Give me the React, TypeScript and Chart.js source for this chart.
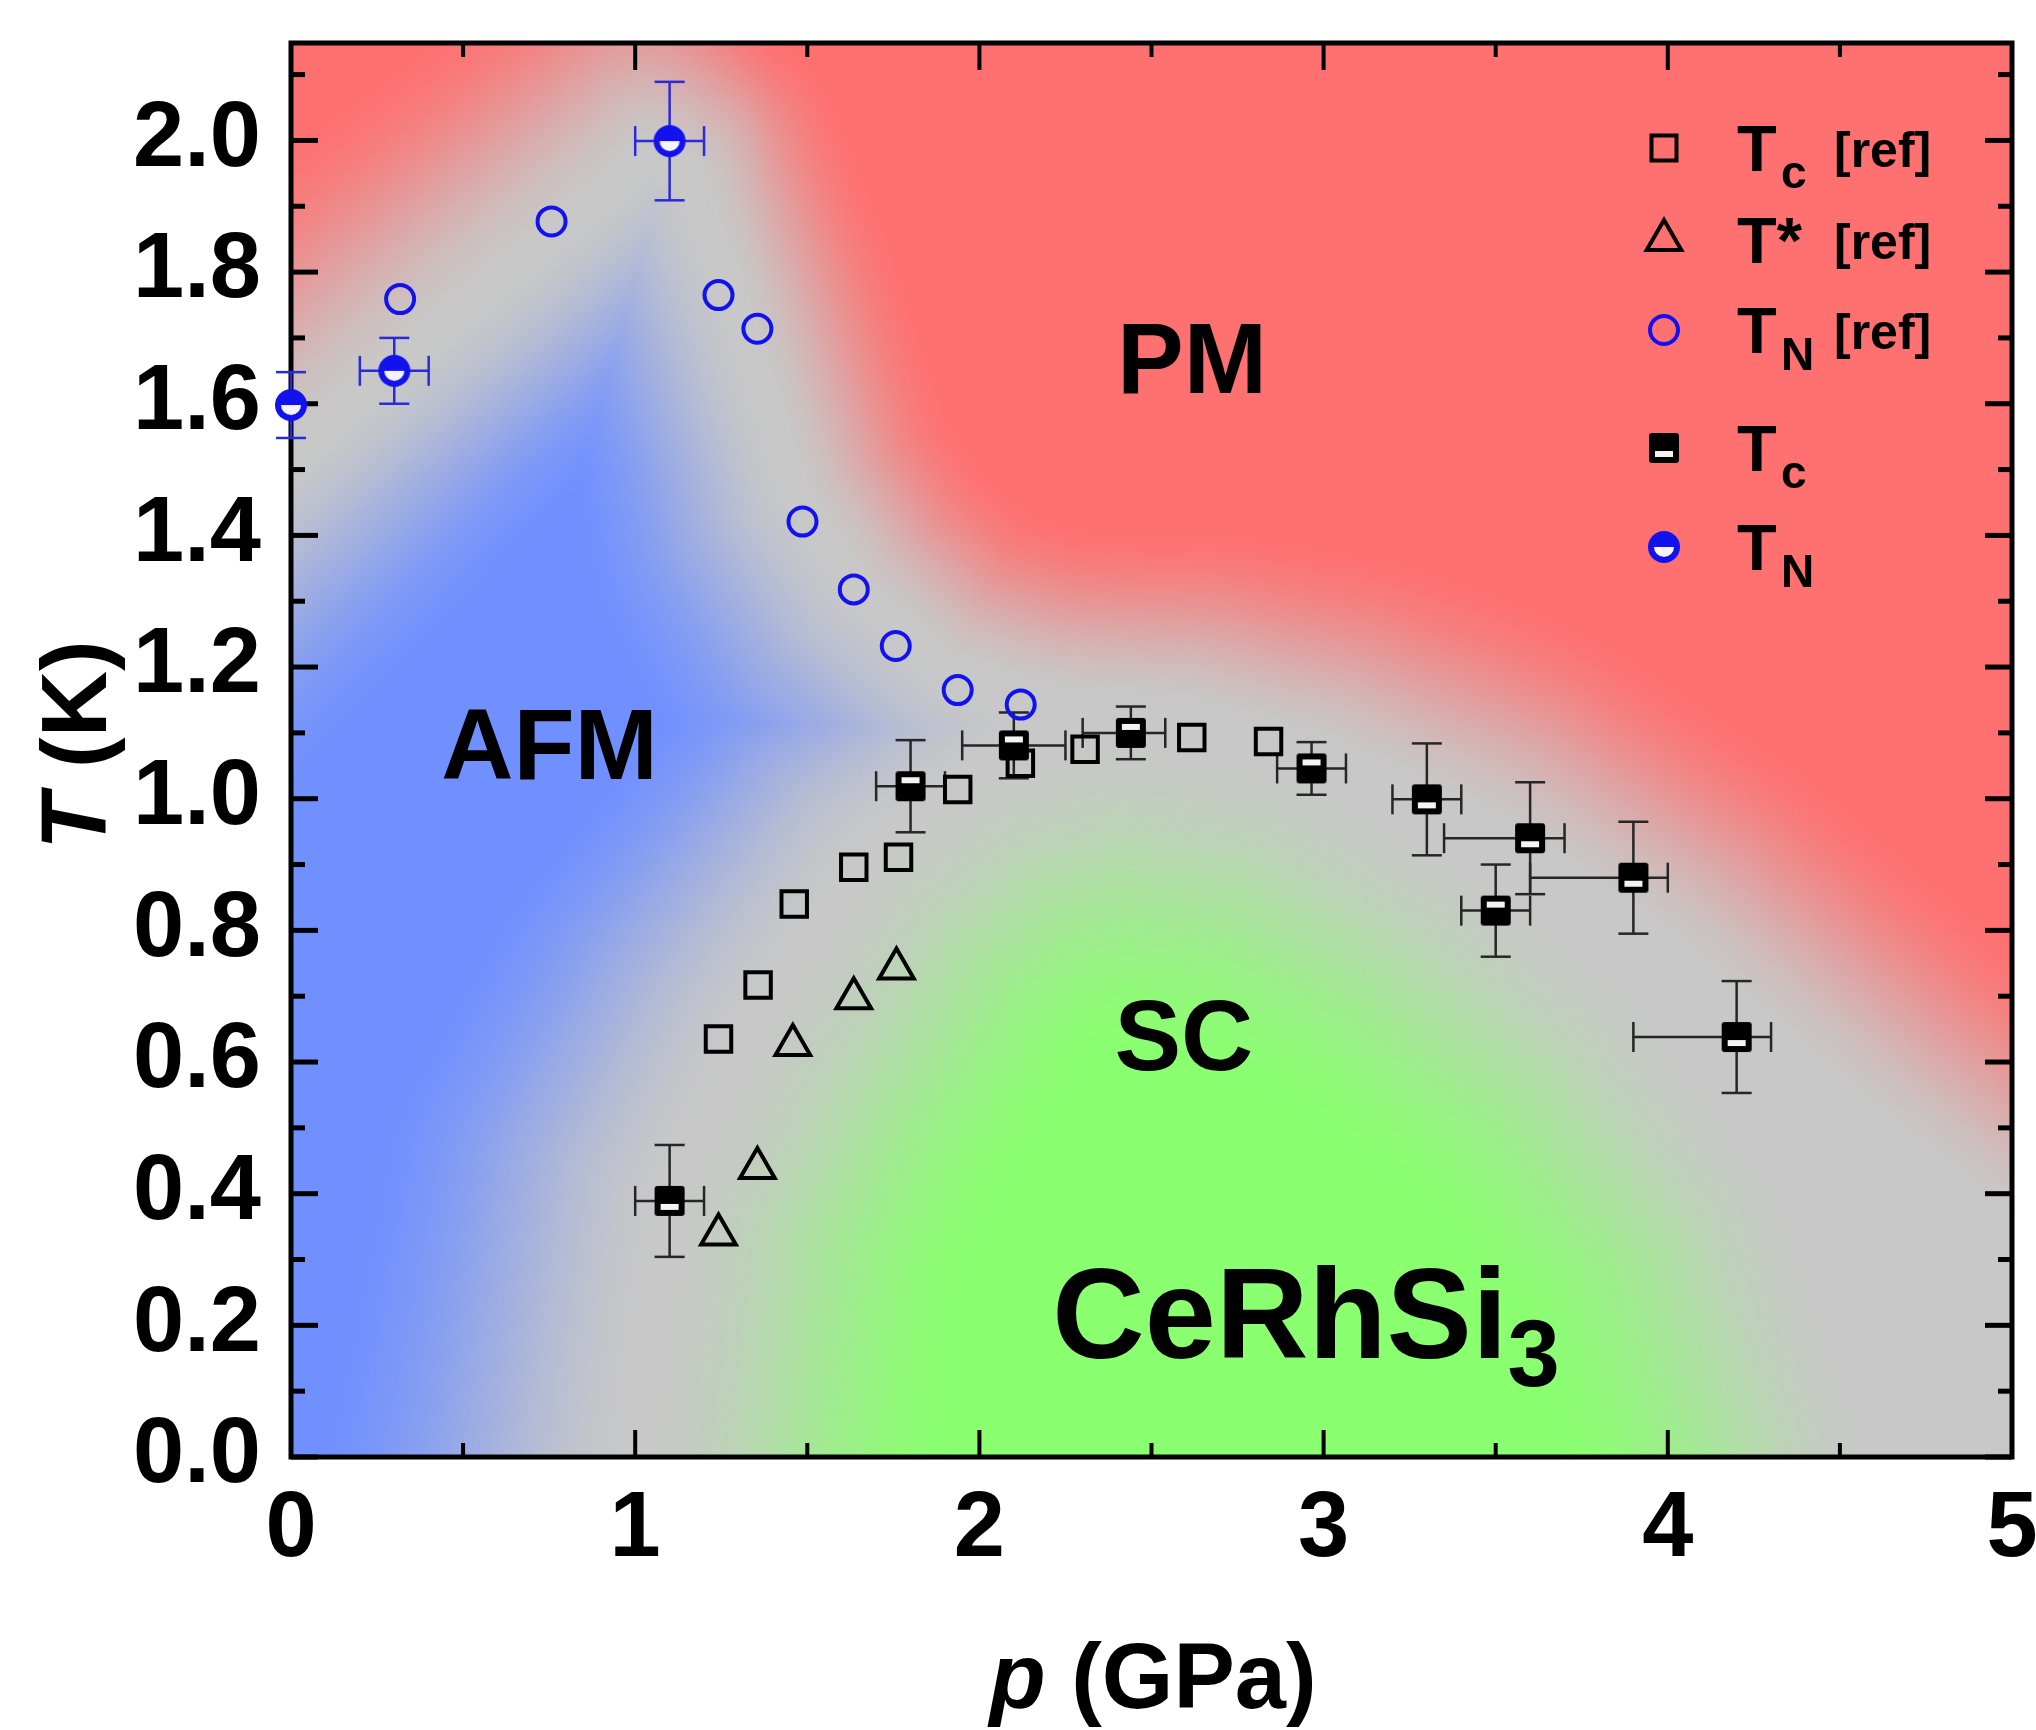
import React, { useEffect, useRef } from "react";
import { Chart, registerables } from "chart.js";

Chart.register(...registerables);

// ---------------- data ----------------
// open squares: Tc [ref]
const tcRefP = [1.242, 1.357, 1.462, 1.635, 1.765, 1.937, 2.119, 2.307, 2.617, 2.84];
const tcRefT = [0.635, 0.717, 0.84, 0.896, 0.911, 1.014, 1.054, 1.075, 1.093, 1.087];

// open triangles: T* [ref]
const tStarP = [1.242, 1.355, 1.458, 1.635, 1.759];
const tStarT = [0.338, 0.439, 0.626, 0.697, 0.742];

// open circles: TN [ref]
const tnRefP = [0.317, 0.757, 1.242, 1.355, 1.486, 1.635, 1.757, 1.937, 2.12];
const tnRefT = [1.759, 1.877, 1.765, 1.714, 1.421, 1.318, 1.232, 1.165, 1.143];

// half-filled squares: Tc (this work)
const tcP = [1.1, 1.8, 2.1, 2.44, 2.965, 3.3, 3.5, 3.6, 3.9, 4.2];
const tcT = [0.389, 1.019, 1.081, 1.1, 1.046, 0.999, 0.83, 0.94, 0.88, 0.638];
const tcPErrMinus = [0.1, 0.1, 0.15, 0.14, 0.1, 0.1, 0.1, 0.25, 0.3, 0.3];
const tcPErrPlus = [0.1, 0.1, 0.15, 0.1, 0.1, 0.1, 0.1, 0.1, 0.1, 0.1];
const tcTErr = [0.085, 0.07, 0.05, 0.04, 0.04, 0.085, 0.07, 0.085, 0.085, 0.085];
const tcBarTop = [false, true, true, true, true, false, true, false, false, false];

// half-filled circles: TN (this work)
const tnP = [0.0, 0.3, 1.1];
const tnT = [1.598, 1.65, 1.999];
const tnPErr = [0, 0.1, 0.1];
const tnTErr = [0.05, 0.05, 0.09];

// axes
const xMajorTicks = [0, 1, 2, 3, 4, 5];
const xMinorTicks = [0.5, 1.5, 2.5, 3.5, 4.5];
const yMajorTicks = [0, 0.2, 0.4, 0.6, 0.8, 1.0, 1.2, 1.4, 1.6, 1.8, 2.0];
const yMinorTicks = [0.1, 0.3, 0.5, 0.7, 0.9, 1.1, 1.3, 1.5, 1.7, 1.9, 2.1];
const X_MIN = 0, X_MAX = 5, Y_MIN = 0, Y_MAX = 2.148;

// phase regions (p, T) used for the shaded background
const pmRegion: [number, number][] = [
  [-1.5, 0.88], [0, 1.52], [0.4, 1.7], [0.75, 1.85], [1.05, 1.98], [1.15, 1.95], [1.3, 1.74],
  [1.47, 1.46], [1.65, 1.32], [1.9, 1.2], [2.2, 1.15], [2.6, 1.13], [3.0, 1.07], [3.5, 0.95],
  [4.0, 0.77], [4.6, 0.5], [5.0, 0.34], [6.5, -0.2], [6.5, 5], [-1.5, 5],
];
const afmRegion: [number, number][] = [
  [-1.5, -2], [0.95, -2], [1.0, 0], [1.1, 0.4], [1.32, 0.64], [1.67, 0.92], [2.0, 1.05],
  [2.15, 1.12], [1.9, 1.2], [1.65, 1.32], [1.47, 1.46], [1.3, 1.74], [1.15, 1.95], [1.05, 1.98],
  [0.75, 1.85], [0.4, 1.7], [0, 1.52], [-1.5, 0.88],
];
const scRegion: [number, number][] = [
  [0.95, -2], [1.0, 0], [1.1, 0.4], [1.32, 0.64], [1.67, 0.92], [2.0, 1.05], [2.4, 1.1],
  [2.9, 1.06], [3.4, 0.92], [3.9, 0.72], [4.35, 0.42], [4.6, 0.05], [4.8, -2],
];
// fade widths (px) of each colour field
const pmWidthAtP = [[0, 250], [1.0, 220], [1.4, 170], [2.5, 185], [3.5, 230], [5, 240]];
const afmWidthAtT = [[0, 330], [0.8, 290], [1.5, 220], [2.2, 220]];
const SC_WIDTH = 320;

// ---------------- styles ----------------
const FONT = '"Liberation Sans", Arial, Helvetica, sans-serif';
const BLUE = "#1212ee";
const GRAY: [number, number, number] = [200, 200, 200];
const RED: [number, number, number] = [255, 112, 112];
const BLUE_BG: [number, number, number] = [112, 144, 255];
const GREEN: [number, number, number] = [138, 255, 112];

function interp(table: number[][], v: number): number {
  if (v <= table[0][0]) return table[0][1];
  for (let i = 1; i < table.length; i++) {
    if (v <= table[i][0]) {
      const [x0, y0] = table[i - 1];
      const [x1, y1] = table[i];
      return y0 + ((v - x0) / (x1 - x0)) * (y1 - y0);
    }
  }
  return table[table.length - 1][1];
}

function makeFilledSquare(barTop: boolean): HTMLCanvasElement {
  const c = document.createElement("canvas");
  c.width = 36;
  c.height = 36;
  const g = c.getContext("2d")!;
  g.fillStyle = "#000";
  g.beginPath();
  (g as any).roundRect ? (g as any).roundRect(3, 3, 30, 30, 3) : g.rect(3, 3, 30, 30);
  g.fill();
  g.fillStyle = "#f4f4f4";
  g.fillRect(9, barTop ? 9 : 21, 18, 6);
  return c;
}

function makeHalfCircle(): HTMLCanvasElement {
  const c = document.createElement("canvas");
  c.width = 36;
  c.height = 36;
  const g = c.getContext("2d")!;
  g.fillStyle = BLUE;
  g.beginPath();
  g.arc(18, 18, 16, 0, Math.PI * 2);
  g.fill();
  g.fillStyle = "#f6f2ff";
  g.beginPath();
  g.arc(18, 18, 10, 0, Math.PI);
  g.closePath();
  g.fill();
  return c;
}

function signedDist(px: number, py: number, poly: number[][]): number {
  let inside = false;
  let minD = Infinity;
  const n = poly.length;
  for (let i = 0, j = n - 1; i < n; j = i++) {
    const xi = poly[i][0], yi = poly[i][1], xj = poly[j][0], yj = poly[j][1];
    if ((yi > py) !== (yj > py) && px < ((xj - xi) * (py - yi)) / (yj - yi) + xi) inside = !inside;
    const dx = xj - xi, dy = yj - yi;
    const l2 = dx * dx + dy * dy;
    let t = l2 > 0 ? ((px - xi) * dx + (py - yi) * dy) / l2 : 0;
    t = t < 0 ? 0 : t > 1 ? 1 : t;
    const ex = xi + t * dx - px, ey = yi + t * dy - py;
    const d = ex * ex + ey * ey;
    if (d < minD) minD = d;
  }
  const d = Math.sqrt(minD);
  return inside ? d : -d;
}

const backgroundPlugin = {
  id: "phaseBackground",
  beforeDraw(chart: any) {
    const { ctx, chartArea: a, scales } = chart;
    const xs = scales.x, ys = scales.y;
    const step = 3;
    const w = Math.ceil((a.right - a.left) / step);
    const h = Math.ceil((a.bottom - a.top) / step);
    const off = document.createElement("canvas");
    off.width = w;
    off.height = h;
    const octx = off.getContext("2d")!;
    const img = octx.createImageData(w, h);
    const toPx = (poly: [number, number][]) =>
      poly.map(([p, t]) => [xs.getPixelForValue(p), ys.getPixelForValue(t)]);
    const pmPoly = toPx(pmRegion), afmPoly = toPx(afmRegion), scPoly = toPx(scRegion);
    const add = (rgb: number[], col: number[], d: number, width: number) => {
      if (d <= 0) return;
      let t = Math.min(1, d / width);
      t = t * t * (3 - 2 * t);
      rgb[0] += t * (col[0] - GRAY[0]);
      rgb[1] += t * (col[1] - GRAY[1]);
      rgb[2] += t * (col[2] - GRAY[2]);
    };
    for (let j = 0; j < h; j++) {
      const py = a.top + (j + 0.5) * step;
      const tv = ys.getValueForPixel(py);
      const afmW = interp(afmWidthAtT, tv);
      for (let i = 0; i < w; i++) {
        const px = a.left + (i + 0.5) * step;
        const pv = xs.getValueForPixel(px);
        const rgb = [GRAY[0], GRAY[1], GRAY[2]];
        add(rgb, RED, signedDist(px, py, pmPoly), interp(pmWidthAtP, pv));
        add(rgb, BLUE_BG, signedDist(px, py, afmPoly), afmW);
        add(rgb, GREEN, signedDist(px, py, scPoly), SC_WIDTH);
        const k = (j * w + i) * 4;
        img.data[k] = rgb[0];
        img.data[k + 1] = rgb[1];
        img.data[k + 2] = rgb[2];
        img.data[k + 3] = 255;
      }
    }
    octx.putImageData(img, 0, 0);
    ctx.save();
    ctx.beginPath();
    ctx.rect(a.left, a.top, a.right - a.left, a.bottom - a.top);
    ctx.clip();
    ctx.imageSmoothingEnabled = true;
    (ctx as any).imageSmoothingQuality = "high";
    ctx.drawImage(off, a.left, a.top, w * step, h * step);
    ctx.restore();
  },
};

const framePlugin = {
  id: "frameAndErrors",
  beforeDatasetsDraw(chart: any) {
    const { ctx, chartArea: a, scales } = chart;
    const xs = scales.x, ys = scales.y;
    ctx.save();
    ctx.strokeStyle = "#000";
    ctx.lineCap = "butt";
    const line = (x1: number, y1: number, x2: number, y2: number, lw: number) => {
      ctx.lineWidth = lw;
      ctx.beginPath();
      ctx.moveTo(x1, y1);
      ctx.lineTo(x2, y2);
      ctx.stroke();
    };
    const MAJ = 27, MIN = 14, TW = 4;
    for (const v of xMajorTicks) {
      const px = xs.getPixelForValue(v);
      line(px, a.bottom, px, a.bottom - MAJ, TW);
      line(px, a.top, px, a.top + MAJ, TW);
    }
    for (const v of xMinorTicks) {
      const px = xs.getPixelForValue(v);
      line(px, a.bottom, px, a.bottom - MIN, TW);
      line(px, a.top, px, a.top + MIN, TW);
    }
    for (const v of yMajorTicks) {
      const py = ys.getPixelForValue(v);
      line(a.left, py, a.left + MAJ, py, TW + 1);
      line(a.right, py, a.right - MAJ, py, TW + 1);
    }
    for (const v of yMinorTicks) {
      const py = ys.getPixelForValue(v);
      line(a.left, py, a.left + MIN, py, TW + 1);
      line(a.right, py, a.right - MIN, py, TW + 1);
    }
    ctx.lineWidth = 5;
    ctx.strokeRect(a.left, a.top, a.right - a.left, a.bottom - a.top);

    // error bars
    const errBar = (p: number, t: number, pm: number, pp: number, te: number, color: string) => {
      const cx = xs.getPixelForValue(p), cy = ys.getPixelForValue(t);
      ctx.strokeStyle = color;
      const CAP = 15;
      if (te > 0) {
        const y1 = ys.getPixelForValue(t + te), y2 = ys.getPixelForValue(t - te);
        line(cx, y1, cx, y2, 2.5);
        line(cx - CAP, y1, cx + CAP, y1, 2.5);
        line(cx - CAP, y2, cx + CAP, y2, 2.5);
      }
      if (pm > 0 || pp > 0) {
        const x1 = xs.getPixelForValue(p - pm), x2 = xs.getPixelForValue(p + pp);
        line(x1, cy, x2, cy, 2.5);
        line(x1, cy - CAP, x1, cy + CAP, 2.5);
        line(x2, cy - CAP, x2, cy + CAP, 2.5);
      }
    };
    tcP.forEach((p, i) => errBar(p, tcT[i], tcPErrMinus[i], tcPErrPlus[i], tcTErr[i], "#262626"));
    tnP.forEach((p, i) => errBar(p, tnT[i], tnPErr[i], tnPErr[i], tnTErr[i], "#2a2ad8"));
    ctx.restore();
  },
};

function textRuns(
  ctx: CanvasRenderingContext2D,
  runs: { text: string; font: string; dy?: number }[],
  x: number,
  y: number,
  align: "left" | "center"
) {
  let total = 0;
  const widths = runs.map((r) => {
    ctx.font = r.font;
    const w = ctx.measureText(r.text).width;
    total += w;
    return w;
  });
  let cx = align === "center" ? x - total / 2 : x;
  ctx.textAlign = "left";
  ctx.textBaseline = "alphabetic";
  runs.forEach((r, i) => {
    ctx.font = r.font;
    ctx.fillText(r.text, cx, y + (r.dy || 0));
    cx += widths[i];
  });
}

const annotationPlugin = {
  id: "annotationsLegend",
  afterDraw(chart: any) {
    const { ctx, scales } = chart;
    const xs = scales.x, ys = scales.y;
    ctx.save();
    ctx.fillStyle = "#000";

    // axis titles
    textRuns(
      ctx,
      [
        { text: "p", font: `italic bold 92px ${FONT}` },
        { text: " (GPa)", font: `bold 92px ${FONT}` },
      ],
      1153,
      1708,
      "center"
    );
    ctx.save();
    ctx.translate(106, 745);
    ctx.rotate(-Math.PI / 2);
    textRuns(
      ctx,
      [
        { text: "T", font: `italic bold 92px ${FONT}` },
        { text: " (K)", font: `bold 92px ${FONT}` },
      ],
      0,
      0,
      "center"
    );
    ctx.restore();

    // phase labels
    const label = (txt: string, p: number, t: number, size: number) => {
      ctx.font = `bold ${size}px ${FONT}`;
      ctx.textAlign = "center";
      ctx.textBaseline = "alphabetic";
      ctx.fillText(txt, xs.getPixelForValue(p), ys.getPixelForValue(t));
    };
    label("PM", 2.618, 1.617, 100);
    label("AFM", 0.751, 1.03, 100);
    label("SC", 2.594, 0.588, 100);
    textRuns(
      ctx,
      [
        { text: "CeRhSi", font: `bold 128px ${FONT}` },
        { text: "3", font: `bold 94px ${FONT}`, dy: 28 },
      ],
      xs.getPixelForValue(2.212),
      ys.getPixelForValue(0.15),
      "left"
    );

    // legend
    const mx = 1664;
    const rows = [148, 240, 330, 448, 547];
    const tx = 1737;
    const bigT = `bold 65px ${FONT}`;
    const subF = `bold 46px ${FONT}`;
    const refF = `bold 50px ${FONT}`;
    // row 1: open square
    ctx.strokeStyle = "#000";
    ctx.lineWidth = 4;
    ctx.strokeRect(mx - 12.5, rows[0] - 12.5, 25, 25);
    // row 2: triangle
    const r = 20;
    ctx.beginPath();
    ctx.moveTo(mx, rows[1] - r);
    ctx.lineTo(mx + r * Math.sin((2 * Math.PI) / 3), rows[1] - r * Math.cos((2 * Math.PI) / 3));
    ctx.lineTo(mx + r * Math.sin((4 * Math.PI) / 3), rows[1] - r * Math.cos((4 * Math.PI) / 3));
    ctx.closePath();
    ctx.stroke();
    // row 3: open circle
    ctx.strokeStyle = BLUE;
    ctx.beginPath();
    ctx.arc(mx, rows[2], 14, 0, Math.PI * 2);
    ctx.stroke();
    // row 4, 5 images
    const sq = makeFilledSquare(false);
    ctx.drawImage(sq, mx - sq.width / 2, rows[3] - sq.height / 2);
    const hc = makeHalfCircle();
    ctx.drawImage(hc, mx - hc.width / 2, rows[4] - hc.height / 2);

    ctx.fillStyle = "#000";
    const entry = (row: number, main: string, sub: string, ref: boolean) => {
      const base = row + 23;
      textRuns(ctx, [{ text: main, font: bigT }], tx, base, "left");
      if (sub) textRuns(ctx, [{ text: sub, font: subF }], tx + 44, base + 17, "left");
      if (ref) textRuns(ctx, [{ text: "[ref]", font: refF }], tx + 97, base - 4, "left");
    };
    entry(rows[0], "T", "c", true);
    entry(rows[1], "T*", "", true);
    entry(rows[2], "T", "N", true);
    entry(rows[3], "T", "c", false);
    entry(rows[4], "T", "N", false);
    ctx.restore();
  },
};

export default function App() {
  const ref = useRef<HTMLCanvasElement>(null);
  useEffect(() => {
    const canvas = ref.current!;
    const tcStyles = tcBarTop.map((b) => makeFilledSquare(b));
    const tnStyle = makeHalfCircle();
    const pts = (xs: number[], ys: number[]) => xs.map((x, i) => ({ x, y: ys[i] }));
    const chart = new Chart(canvas, {
      type: "scatter",
      data: {
        datasets: [
          {
            label: "Tc [ref]",
            data: pts(tcRefP, tcRefT),
            pointStyle: "rect",
            pointRadius: 18,
            borderWidth: 4,
            borderColor: "#000",
            backgroundColor: "rgba(0,0,0,0)",
            order: 0,
            clip: false,
          } as any,
          {
            label: "T* [ref]",
            data: pts(tStarP, tStarT),
            pointStyle: "triangle",
            pointRadius: 20,
            borderWidth: 4,
            borderColor: "#000",
            backgroundColor: "rgba(0,0,0,0)",
            order: 0,
            clip: false,
          } as any,
          {
            label: "TN [ref]",
            data: pts(tnRefP, tnRefT),
            pointStyle: "circle",
            pointRadius: 14,
            borderWidth: 4,
            borderColor: BLUE,
            backgroundColor: "rgba(0,0,0,0)",
            order: 0,
            clip: false,
          } as any,
          {
            label: "Tc",
            data: pts(tcP, tcT),
            pointStyle: (c: any) => tcStyles[c.dataIndex] || tcStyles[0],
            pointRadius: 16,
            order: 1,
            clip: false,
          } as any,
          {
            label: "TN",
            data: pts(tnP, tnT),
            pointStyle: tnStyle,
            pointRadius: 16,
            order: 1,
            clip: false,
          } as any,
        ],
      },
      options: {
        responsive: false,
        animation: false,
        devicePixelRatio: 1,
        events: [],
        layout: { padding: { left: 0, top: 43, right: 21, bottom: 0 } },
        plugins: { legend: { display: false }, tooltip: { enabled: false } },
        scales: {
          x: {
            type: "linear",
            min: X_MIN,
            max: X_MAX,
            grid: { display: false, drawTicks: false },
            border: { display: false },
            afterBuildTicks: (s: any) => {
              s.ticks = xMajorTicks.map((v) => ({ value: v }));
            },
            afterFit: (s: any) => {
              s.height = 273;
              s.paddingLeft = 0;
              s.paddingRight = 0;
            },
            ticks: {
              padding: 18,
              color: "#000",
              font: { family: FONT, size: 92, weight: "bold" },
              callback: (v: any) => String(v),
              maxRotation: 0,
              autoSkip: false,
            },
          },
          y: {
            type: "linear",
            min: Y_MIN,
            max: Y_MAX,
            grid: { display: false, drawTicks: false },
            border: { display: false },
            afterBuildTicks: (s: any) => {
              s.ticks = yMajorTicks.map((v) => ({ value: v }));
            },
            afterFit: (s: any) => {
              s.width = 291;
              s.paddingTop = 0;
              s.paddingBottom = 0;
            },
            ticks: {
              padding: 30,
              color: "#000",
              font: { family: FONT, size: 92, weight: "bold" },
              callback: (v: any) => Number(v).toFixed(1),
              autoSkip: false,
            },
          },
        },
      } as any,
      plugins: [backgroundPlugin, framePlugin, annotationPlugin],
    });
    return () => chart.destroy();
  }, []);
  return (
    <div style={{ position: "absolute", left: 0, top: 0, width: 2036, height: 1730, background: "#fff" }}>
      <canvas ref={ref} width={2036} height={1730} style={{ display: "block", width: 2036, height: 1730 }} />
    </div>
  );
}
